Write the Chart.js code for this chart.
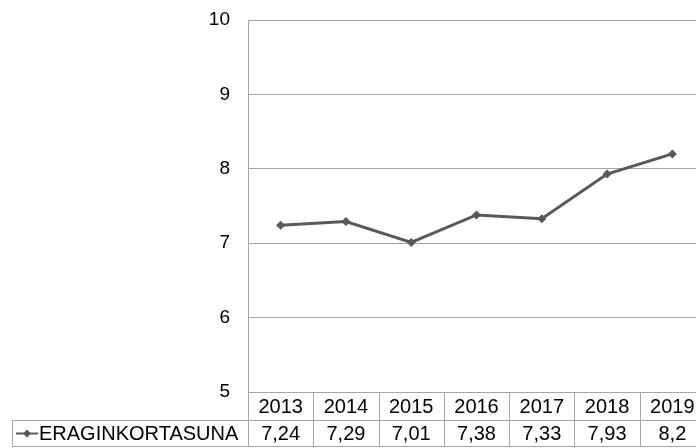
<!DOCTYPE html>
<html>
<head>
<meta charset="utf-8">
<script src="https://cdn.jsdelivr.net/npm/chart.js"></script>
<style>
  html, body { margin: 0; padding: 0; background: #fff; overflow: hidden; }
  #wrap { width: 712px; height: 448px; }
</style>
</head>
<body>
<div id="wrap"><canvas id="graphique"></canvas></div>
<script>
// Données
const annees = ['2013', '2014', '2015', '2016', '2017', '2018', '2019'];
const valeurs = [7.24, 7.29, 7.01, 7.38, 7.33, 7.93, 8.2];
const valeursTexte = ['7,24', '7,29', '7,01', '7,38', '7,33', '7,93', '8,2'];
const nomSerie = 'ERAGINKORTASUNA';

const couleurLigne = '#595959';
const couleurGrille = '#a6a6a6';
const police = '"Liberation Sans", Arial, sans-serif';

// Tableau de données sous le graphique
const tableauPlugin = {
    id: 'tableau',
    afterDraw(chart) {
        const ctx = chart.ctx;
        const x = chart.scales.x;
        const area = chart.chartArea;
        const largeur = x.getPixelForValue(1) - x.getPixelForValue(0);
        const haut = area.bottom;
        const milieu = haut + 28;
        const bas = haut + 55;
        ctx.save();
        ctx.strokeStyle = couleurGrille;
        ctx.lineWidth = 1;
        ctx.beginPath();
        // lignes horizontales
        ctx.moveTo(12, milieu + 0.5);
        ctx.lineTo(area.right, milieu + 0.5);
        ctx.moveTo(12, bas - 0.5);
        ctx.lineTo(area.right, bas - 0.5);
        // bord gauche de la légende
        ctx.moveTo(12.5, milieu);
        ctx.lineTo(12.5, bas);
        // séparateurs de colonnes
        for (let i = 0; i <= annees.length; i++) {
            const px = Math.round(x.getPixelForValue(i) - largeur / 2) + 0.5;
            ctx.moveTo(px, haut);
            ctx.lineTo(px, bas);
        }
        ctx.stroke();

        ctx.fillStyle = '#000';
        ctx.font = '20px ' + police;
        ctx.textAlign = 'center';
        ctx.textBaseline = 'middle';
        annees.forEach((a, i) => {
            const px = x.getPixelForValue(i);
            ctx.fillText(a, px, haut + 15);
            ctx.fillText(valeursTexte[i], px, milieu + 14);
        });

        // légende
        ctx.textAlign = 'left';
        ctx.fillText(nomSerie, 39, milieu + 14);
        const ly = milieu + 13.5;
        ctx.strokeStyle = couleurLigne;
        ctx.lineWidth = 2;
        ctx.beginPath();
        ctx.moveTo(16, ly);
        ctx.lineTo(38, ly);
        ctx.stroke();
        ctx.fillStyle = couleurLigne;
        ctx.beginPath();
        ctx.moveTo(27, ly - 4);
        ctx.lineTo(31, ly);
        ctx.lineTo(27, ly + 4);
        ctx.lineTo(23, ly);
        ctx.closePath();
        ctx.fill();
        ctx.restore();
    }
};

const ctx = document.getElementById('graphique').getContext('2d');
new Chart(ctx, {
    type: 'line',
    data: {
        labels: annees,
        datasets: [{
            label: nomSerie,
            data: valeurs,
            borderColor: couleurLigne,
            backgroundColor: couleurLigne,
            borderWidth: 3,
            tension: 0,
            pointStyle: 'rectRot',
            pointRadius: 4.5,
            pointBorderWidth: 0
        }]
    },
    options: {
        responsive: true,
        maintainAspectRatio: false,
        animation: false,
        devicePixelRatio: 1,
        layout: {
            padding: { top: 20, right: 7, bottom: 56, left: 0 }
        },
        plugins: {
            legend: { display: false },
            tooltip: { enabled: false }
        },
        scales: {
            x: {
                type: 'category',
                offset: true,
                display: false
            },
            y: {
                min: 5,
                max: 10,
                afterFit(scale) {
                    scale.width = 248;
                    scale.paddingTop = 0;
                    scale.paddingBottom = 0;
                },
                ticks: {
                    stepSize: 1,
                    padding: 18,
                    color: '#000',
                    font: { family: police, size: 19 }
                },
                grid: {
                    color: couleurGrille,
                    drawTicks: false
                },
                border: { color: couleurGrille }
            }
        }
    },
    plugins: [tableauPlugin]
});
</script>
</body>
</html>
